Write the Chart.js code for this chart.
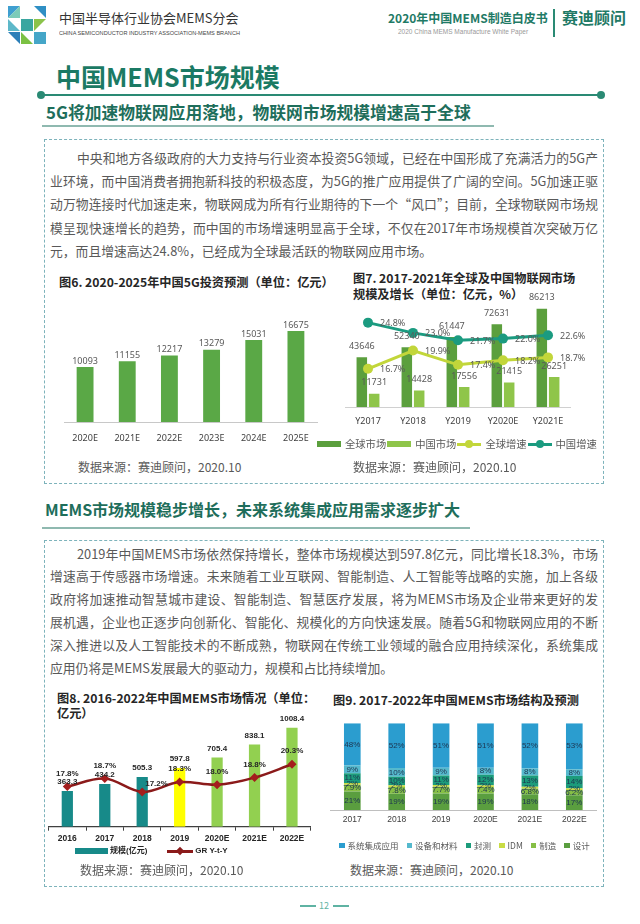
<!DOCTYPE html>
<html>
<head>
<meta charset="utf-8">
<script src="https://cdn.jsdelivr.net/npm/chart.js@4.4.0/dist/chart.umd.min.js"></script>
<style>
  body { margin: 0; width: 640px; height: 924px; position: relative; background: #fff; overflow: hidden;
         font-family: "Noto Sans CJK SC", "Noto Sans", sans-serif; }
  .t { position: absolute; white-space: nowrap; line-height: 1; }
  .para { position: absolute; white-space: nowrap; line-height: 1; font-size: 12.8px; color: #595959;
          text-align: justify; text-align-last: justify; }
  .para.last { text-align-last: left; }
  .box { position: absolute; border: 1px dashed #7db3bb; }
  .ctitle { font-size: 12.2px; font-weight: 700; color: #262626; }
  .src { font-size: 12px; color: #595959; }
  canvas { position: absolute; }
  .legend { position: absolute; display: flex; align-items: center; white-space: nowrap; line-height: 1; }
  .legend .item { display: flex; align-items: center; }
</style>
</head>
<body>

<!-- header -->
<svg class="t" style="left:8px;top:6px" width="38" height="38" viewBox="0 0 38 38">
  <polygon points="0,0 12,0 0,12" fill="#3f9fd0"/>
  <polygon points="12,0 12,12 0,12" fill="#7ccbb8"/>
  <polygon points="26,0 38,0 38,12" fill="#2f8fc4"/>
  <polygon points="13,13 25,13 25,25 13,25" fill="#3aa6a0"/>
  <polygon points="26,13 38,13 26,25" fill="#8bc34a"/>
  <polygon points="0,26 12,26 12,38" fill="#2b7fb8"/>
  <polygon points="0,13 12,25 0,25" fill="#5db8c9"/>
  <polygon points="26,26 38,26 38,38 26,38" fill="#45a6c8"/>
  <polygon points="13,26 25,38 13,38" fill="#7bc143"/>
</svg>
<div class="t" style="left:59px;top:11px;font-size:13px;color:#333">中国半导体行业协会MEMS分会</div>
<div class="t" style="left:59px;top:30px;font-size:6px;color:#444;font-family:'Liberation Sans';transform:scaleX(0.93);transform-origin:left">CHINA SEMICONDUCTOR INDUSTRY ASSOCIATION-MEMS BRANCH</div>
<div class="t" style="left:388px;top:12px;font-size:12px;font-weight:700;color:#1f7a66">2020年中国MEMS制造白皮书</div>
<div class="t" style="left:398px;top:29px;font-size:6.5px;color:#999;font-family:'Liberation Sans'">2020 China MEMS Manufacture White Paper</div>
<div class="t" style="left:553px;top:9px;width:1.5px;height:28px;background:#2a8a74"></div>
<div class="t" style="left:562px;top:9px;font-size:16px;font-weight:700;color:#1f7a66">赛迪顾问</div>

<!-- page title -->
<div class="t" style="left:56px;top:64px;font-size:25px;font-weight:700;color:#1b7a64">中国MEMS市场规模</div>
<div class="t" style="left:41px;top:94px;width:560px;height:2px;background:#2a8a74"></div>
<div class="t" style="left:37px;top:91px;width:8px;height:8px;border-radius:4px;background:#2a8a74"></div>
<div class="t" style="left:597px;top:91px;width:8px;height:8px;border-radius:4px;background:#2a8a74"></div>

<div class="t" style="left:46px;top:104px;font-size:16.8px;font-weight:700;color:#1e6e5b">5G将加速物联网应用落地，物联网市场规模增速高于全球</div>
<div class="t" style="left:42px;top:125px;width:452px;height:2px;background:#8fb9b0"></div>

<div class="box" style="left:44px;top:139px;width:558px;height:343px"></div>

<div class="para" style="left:77px;top:151.6px;width:521px">中央和地方各级政府的大力支持与行业资本投资5G领域，已经在中国形成了充满活力的5G产</div>
<div class="para" style="left:50px;top:174.9px;width:548px">业环境，而中国消费者拥抱新科技的积极态度，为5G的推广应用提供了广阔的空间。5G加速正驱</div>
<div class="para" style="left:50px;top:198.2px;width:548px">动万物连接时代加速走来，物联网成为所有行业期待的下一个“风口”；目前，全球物联网市场规</div>
<div class="para" style="left:50px;top:221.5px;width:548px">模呈现快速增长的趋势，而中国的市场增速明显高于全球，不仅在2017年市场规模首次突破万亿</div>
<div class="para last" style="left:50px;top:244.8px;width:548px">元，而且增速高达24.8%，已经成为全球最活跃的物联网应用市场。</div>

<div class="t ctitle" style="left:59px;top:276px">图6. 2020-2025年中国5G投资预测（单位：亿元）</div>
<div class="t ctitle" style="left:353px;top:272px">图7. 2017-2021年全球及中国物联网市场</div>
<div class="t ctitle" style="left:353px;top:287.5px">规模及增长（单位：亿元，%）</div>

<canvas id="chart6" width="290" height="146" style="left:50px;top:300px"></canvas>
<canvas id="chart7" width="292" height="146" style="left:312px;top:283px"></canvas>
<div class="legend" id="legend7" style="left:317px;top:439px;font-size:10.3px;color:#595959"></div>

<div class="t src" style="left:78px;top:461px">数据来源：赛迪顾问，2020.10</div>
<div class="t src" style="left:353px;top:461px">数据来源：赛迪顾问，2020.10</div>

<!-- section 2 -->
<div class="t" style="left:45px;top:501px;font-size:16px;font-weight:700;color:#1e6e5b">MEMS市场规模稳步增长，未来系统集成应用需求逐步扩大</div>
<div class="t" style="left:42px;top:527px;width:428px;height:2px;background:#8fb9b0"></div>

<div class="box" style="left:44px;top:540px;width:558px;height:345px"></div>

<div class="para" style="left:77px;top:547.6px;width:521px">2019年中国MEMS市场依然保持增长，整体市场规模达到597.8亿元，同比增长18.3%，市场</div>
<div class="para" style="left:50px;top:570.4px;width:548px">增速高于传感器市场增速。未来随着工业互联网、智能制造、人工智能等战略的实施，加上各级</div>
<div class="para" style="left:50px;top:593.2px;width:548px">政府将加速推动智慧城市建设、智能制造、智慧医疗发展，将为MEMS市场及企业带来更好的发</div>
<div class="para" style="left:50px;top:616px;width:548px">展机遇，企业也正逐步向创新化、智能化、规模化的方向快速发展。随着5G和物联网应用的不断</div>
<div class="para" style="left:50px;top:638.8px;width:548px">深入推进以及人工智能技术的不断成熟，物联网在传统工业领域的融合应用持续深化，系统集成</div>
<div class="para last" style="left:50px;top:661.6px;width:548px">应用仍将是MEMS发展最大的驱动力，规模和占比持续增加。</div>

<div class="t ctitle" style="left:57px;top:692px">图8. 2016-2022年中国MEMS市场情况（单位：</div>
<div class="t ctitle" style="left:57px;top:707px">亿元）</div>
<div class="t ctitle" style="left:333px;top:694px">图9. 2017-2022年中国MEMS市场结构及预测</div>

<canvas id="chart8" width="285" height="147" style="left:40px;top:700px"></canvas>
<div class="legend" id="legend8" style="left:75px;top:846px;font-size:8px;font-weight:700;color:#262626;font-family:'Liberation Sans','Noto Sans CJK SC'"></div>
<canvas id="chart9" width="282" height="116" style="left:322px;top:712px"></canvas>
<div class="legend" id="legend9" style="left:339px;top:841px;font-size:8.5px;color:#595959"></div>

<div class="t src" style="left:80px;top:864px">数据来源：赛迪顾问，2020.10</div>
<div class="t src" style="left:350px;top:864px">数据来源：赛迪顾问，2020.10</div>

<div class="t" style="left:300px;top:905px;width:16px;height:1.5px;background:#5fb3a3"></div>
<div class="t" style="left:319px;top:901px;font-size:9px;color:#5fb3a3">12</div>
<div class="t" style="left:333px;top:905px;width:16px;height:1.5px;background:#5fb3a3"></div>

<script>
// 图6 中国5G投资预测
const years6 = ['2020E', '2021E', '2022E', '2023E', '2024E', '2025E'];
const invest6 = [10093, 11155, 12217, 13279, 15031, 16675];

// 图7 全球及中国物联网市场
const years7 = ['Y2017', 'Y2018', 'Y2019', 'Y2020E', 'Y2021E'];
const series7 = ['全球市场', '中国市场', '全球增速', '中国增速'];
const globalMarket7 = [43646, 52340, 61447, 72631, 86213];
const chinaMarket7 = [11731, 14428, 17556, 21415, 26251];
const globalGrowth7 = [16.7, 19.9, 17.4, 18.2, 18.7];
const chinaGrowth7 = [24.8, 23.0, 21.7, 22.0, 22.6];

// 图8 中国MEMS市场情况
const years8 = ['2016', '2017', '2018', '2019', '2020E', '2021E', '2022E'];
const series8 = ['规模(亿元)', 'GR Y-t-Y'];
const scale8 = [363.3, 434.2, 505.3, 597.8, 705.4, 838.1, 1008.4];
const growth8 = [17.8, 18.7, 17.2, 18.3, 18.0, 18.8, 20.3];

// 图9 中国MEMS市场结构（%）
const years9 = ['2017', '2018', '2019', '2020E', '2021E', '2022E'];
const series9 = ['系统集成应用', '设备和材料', '封测', 'IDM', '制造', '设计'];
const system9 = [48, 52, 51, 51, 52, 53];
const equip9 = [9, 10, 9, 8, 8, 8];
const packTest9 = [11, 10, 11, 12, 13, 14];
const idm9 = [2, 2, 2, 2, 2, 2];
const manufacture9 = [7.9, 7.8, 7.7, 7.4, 6.8, 6.2];
const design9 = [21, 19, 19, 19, 18, 17];

Chart.defaults.font.family = '"Noto Sans", "Noto Sans CJK SC", sans-serif';
Chart.defaults.animation = false;
Chart.defaults.devicePixelRatio = 1;
Chart.defaults.plugins.legend.display = false;
Chart.defaults.plugins.tooltip.enabled = false;

// 数据标签（Chart.js 本身没有），按元素位置画
const valueLabels = {
  id: 'valueLabels',
  afterDatasetsDraw(chart) {
    const ctx = chart.ctx;
    chart.data.datasets.forEach((ds, i) => {
      const st = ds.labelStyle;
      if (!st) return;
      const meta = chart.getDatasetMeta(i);
      ctx.save();
      ctx.font = st.font;
      ctx.fillStyle = st.color;
      ctx.textBaseline = 'middle';
      meta.data.forEach((el, j) => {
        const raw = ds.rawValues ? ds.rawValues[j] : ds.data[j];
        const pos = Array.isArray(st.pos) ? st.pos[j] : st.pos;
        let x = el.x, y = el.y;
        if (pos === 'center') {
          ctx.textAlign = 'center';
          y = (el.y + el.base) / 2;
        } else if (pos === 'right') {
          ctx.textAlign = 'left';
          x += st.side.dx;
          y += st.side.dy;
        } else {
          ctx.textAlign = 'center';
          y -= st.gap;
        }
        ctx.fillText(st.format(raw), x, y);
      });
      ctx.restore();
    });
  }
};

const pct = v => (Number.isInteger(v) ? v : v.toFixed(1)) + '%';
const pct1 = v => v.toFixed(1) + '%';
const hiddenY = (min, max) => ({ display: false, min: min, max: max });
const fixHeight = h => (scale) => { scale.height = h; };

// ---- 图6 ----
new Chart(document.getElementById('chart6'), {
  type: 'bar',
  data: {
    labels: years6,
    datasets: [{
      data: invest6,
      backgroundColor: '#5aa846',
      barPercentage: 0.4,
      categoryPercentage: 1,
      labelStyle: { font: '9px "Noto Sans"', color: '#595959', pos: 'top', gap: 6, format: v => String(v) }
    }]
  },
  options: {
    responsive: false,
    layout: { padding: { left: 14, right: 23, top: 13, bottom: 0 } },
    scales: {
      x: {
        grid: { display: false, drawTicks: false },
        border: { color: '#c8c8c8' },
        ticks: { color: '#404040', font: { size: 9 }, padding: 11 },
        afterFit: fixHeight(24)
      },
      y: hiddenY(0, 20000)
    }
  },
  plugins: [valueLabels]
});

// ---- 图7 ----
const colors7 = ['#5b9f3d', '#8fc54a', '#c2d63a', '#1b9b80'];
new Chart(document.getElementById('chart7'), {
  type: 'bar',
  data: {
    labels: years7,
    datasets: [
      {
        label: series7[2], type: 'line', data: globalGrowth7, yAxisID: 'y1', order: 0,
        borderColor: colors7[2], backgroundColor: colors7[2], borderWidth: 3,
        pointRadius: 5, pointBackgroundColor: colors7[2], pointBorderWidth: 0,
        labelStyle: { font: '9px "Noto Sans"', color: '#595959', pos: 'right', side: { dx: 12, dy: 1 }, format: pct1 }
      },
      {
        label: series7[3], type: 'line', data: chinaGrowth7, yAxisID: 'y1', order: 0,
        borderColor: colors7[3], backgroundColor: colors7[3], borderWidth: 3,
        pointRadius: 5, pointBackgroundColor: colors7[3], pointBorderWidth: 0,
        labelStyle: { font: '9px "Noto Sans"', color: '#595959', pos: 'right', side: { dx: 12, dy: 1 }, format: pct1 }
      },
      {
        label: series7[0], data: globalMarket7, backgroundColor: colors7[0], order: 1,
        barPercentage: 0.85, categoryPercentage: 0.55,
        labelStyle: { font: '9px "Noto Sans"', color: '#595959', pos: 'top', gap: 11, format: v => String(v) }
      },
      {
        label: series7[1], data: chinaMarket7, backgroundColor: colors7[1], order: 1,
        barPercentage: 0.85, categoryPercentage: 0.55,
        labelStyle: { font: '9px "Noto Sans"', color: '#595959', pos: 'top', gap: 11, format: v => String(v) }
      }
    ]
  },
  options: {
    responsive: false,
    layout: { padding: { left: 33.5, right: 33.5, top: 10, bottom: 0 } },
    scales: {
      x: {
        grid: { display: false, drawTicks: false },
        border: { color: '#d0d0d0' },
        ticks: { color: '#404040', font: { size: 9 }, padding: 9 },
        afterFit: fixHeight(22)
      },
      y: hiddenY(0, 100000),
      y1: { display: false, position: 'right', min: 10, max: 30 }
    }
  },
  plugins: [valueLabels]
});

// ---- 图8 ----
const barColors8 = ['#178a89', '#178a89', '#178a89', '#ffff00', '#92d050', '#92d050', '#92d050'];
const lineColor8 = '#8b1a1a';
new Chart(document.getElementById('chart8'), {
  type: 'bar',
  data: {
    labels: years8,
    datasets: [
      {
        label: series8[1], type: 'line', data: growth8, yAxisID: 'y1', order: 0,
        borderColor: lineColor8, borderWidth: 2.5, tension: 0.35,
        pointStyle: 'rectRot', pointRadius: 4.5, pointBackgroundColor: '#a41d1d', pointBorderWidth: 0,
        labelStyle: { font: 'bold 8px "Liberation Sans"', color: '#262626',
                      pos: ['top', 'top', 'right', 'top', 'top', 'top', 'top'], gap: 13,
                      side: { dx: 3, dy: -8 }, format: pct1 }
      },
      {
        label: series8[0], data: scale8, backgroundColor: barColors8, order: 1,
        barPercentage: 0.3, categoryPercentage: 1,
        labelStyle: { font: 'bold 8px "Liberation Sans"', color: '#262626', pos: 'top', gap: 9, format: v => v.toFixed(1) }
      }
    ]
  },
  options: {
    responsive: false,
    layout: { padding: { left: 8.6, right: 14.3, top: 8.9, bottom: 0 } },
    scales: {
      x: {
        grid: { drawOnChartArea: false, drawTicks: true, tickLength: 4, color: '#404040' },
        border: { color: '#404040', width: 1.2 },
        ticks: { color: '#262626', font: { size: 8.5, weight: 'bold', family: '"Liberation Sans"' }, padding: 3.3 },
        afterFit: fixHeight(20.3)
      },
      y: hiddenY(0, 1200),
      y1: { display: false, position: 'right', min: 13.3, max: 26.5 }
    }
  },
  plugins: [valueLabels]
});

// ---- 图9 ----
const colors9 = ['#2b9dcf', '#55b9cd', '#1c9c7b', '#c9dc45', '#86bf45', '#5a9e3f'];
const parts9 = [system9, equip9, packTest9, idm9, manufacture9, design9];
const totals9 = years9.map((_, j) => parts9.reduce((s, p) => s + p[j], 0));
// 100% 堆积：从下往上为 设计、制造、IDM、封测、设备和材料、系统集成应用
const datasets9 = parts9.map((p, k) => ({
  label: series9[k],
  data: p.map((v, j) => v / totals9[j] * 100),
  rawValues: p,
  backgroundColor: colors9[k],
  barPercentage: 0.375,
  categoryPercentage: 1,
  labelStyle: { font: '8px "Liberation Sans"', color: '#1d3550', pos: 'center', format: pct }
})).reverse();

new Chart(document.getElementById('chart9'), {
  type: 'bar',
  data: { labels: years9, datasets: datasets9 },
  options: {
    responsive: false,
    layout: { padding: { left: 8.1, right: 7.5, top: 11.3, bottom: 0 } },
    scales: {
      x: {
        stacked: true,
        grid: { display: false, drawTicks: false },
        border: { color: '#bfbfbf' },
        ticks: { color: '#404040', font: { size: 8.5, family: '"Liberation Sans"' }, padding: 5 },
        afterFit: fixHeight(18)
      },
      y: { stacked: true, display: false, min: 0, max: 100 }
    }
  },
  plugins: [valueLabels]
});

// ---- HTML 图例 ----
function swatchBar(color, w, h) {
  const d = document.createElement('span');
  d.style.cssText = `display:inline-block;width:${w}px;height:${h}px;background:${color}`;
  return d;
}
function swatchLine(color, w, marker) {
  const d = document.createElement('span');
  d.style.cssText = `position:relative;display:inline-block;width:${w}px;height:10px`;
  const line = document.createElement('span');
  line.style.cssText = `position:absolute;left:0;top:3.5px;width:${w}px;height:3px;background:${color}`;
  const dot = document.createElement('span');
  const r = marker === 'diamond' ? 'transform:rotate(45deg);width:6px;height:6px;left:' + (w / 2 - 3) + 'px;top:2px'
                                  : 'border-radius:4px;width:8px;height:8px;left:' + (w / 2 - 4) + 'px;top:1px';
  dot.style.cssText = `position:absolute;background:${color};${r}`;
  d.appendChild(line);
  d.appendChild(dot);
  return d;
}
function addItem(box, sw, text, gap, after) {
  const it = document.createElement('span');
  it.className = 'item';
  it.style.marginRight = after + 'px';
  const tx = document.createElement('span');
  tx.textContent = text;
  tx.style.marginLeft = gap + 'px';
  it.appendChild(sw);
  it.appendChild(tx);
  box.appendChild(it);
}

const lg7 = document.getElementById('legend7');
addItem(lg7, swatchBar(colors7[0], 24, 6), series7[0], 4, 1);
addItem(lg7, swatchBar(colors7[1], 24, 6), series7[1], 4, 1);
addItem(lg7, swatchLine(colors7[2], 24, 'circle'), series7[2], 4, 1);
addItem(lg7, swatchLine(colors7[3], 24, 'circle'), series7[3], 4, 0);

const lg8 = document.getElementById('legend8');
addItem(lg8, swatchBar(barColors8[0], 33, 6), series8[0], 2, 20);
addItem(lg8, swatchLine(lineColor8, 26, 'diamond'), series8[1], 2, 0);

const lg9 = document.getElementById('legend9');
series9.forEach((name, k) => addItem(lg9, swatchBar(colors9[k], 5.5, 5.5), name, 3, 8));
</script>
</body>
</html>
